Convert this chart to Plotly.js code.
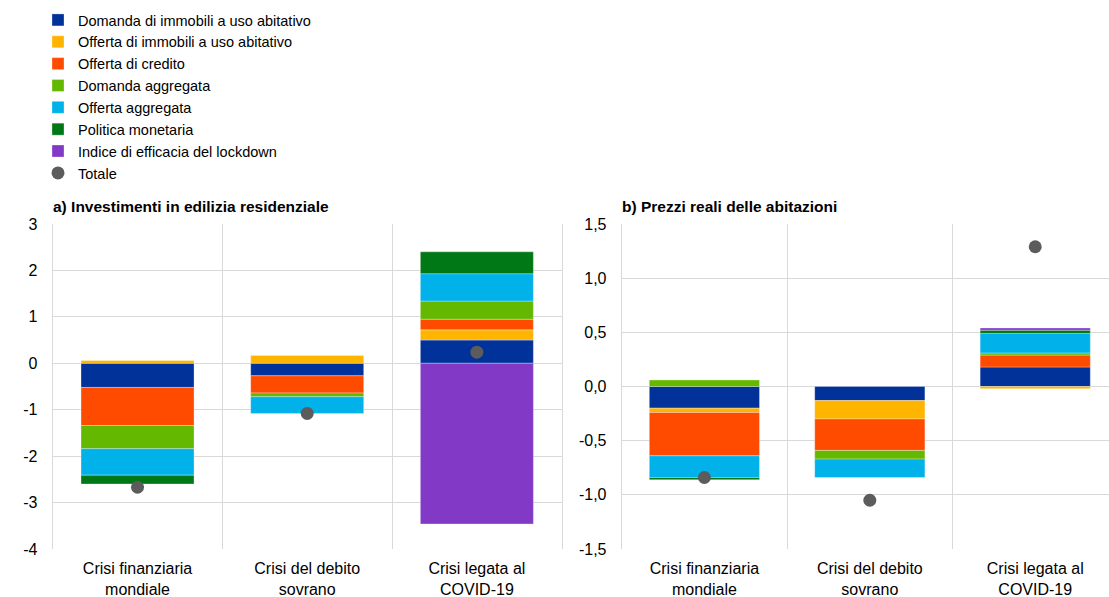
<!DOCTYPE html>
<html>
<head>
<meta charset="utf-8">
<script src="https://cdn.plot.ly/plotly-3.0.1.min.js"></script>
<style>html,body{margin:0;padding:0;background:#fff;}#chart{width:1109px;height:597px;}</style>
</head>
<body>
<div id="chart"></div>
<script>
// ---- Data ----
const categories = ["Crisi finanziaria<br>mondiale", "Crisi del debito<br>sovrano", "Crisi legata al<br>COVID-19"];
const seriesNames = [
  "Domanda di immobili a uso abitativo",
  "Offerta di immobili a uso abitativo",
  "Offerta di credito",
  "Domanda aggregata",
  "Offerta aggregata",
  "Politica monetaria",
  "Indice di efficacia del lockdown"
];
const totaleName = "Totale";

// Panel a) Investimenti in edilizia residenziale
const domImm_a   = [-0.52, -0.27, 0.50];
const offImm_a   = [0.06, 0.17, 0.22];
const offCred_a  = [-0.82, -0.37, 0.23];
const domAgg_a   = [-0.50, -0.08, 0.39];
const offAgg_a   = [-0.57, -0.36, 0.59];
const polMon_a   = [-0.19, null, 0.47];
const lockdown_a = [null, null, -3.46];
const totale_a   = [-2.67, -1.08, 0.24];

// Panel b) Prezzi reali delle abitazioni
const domImm_b   = [-0.20, -0.13, 0.18];
const offImm_b   = [-0.04, -0.17, -0.02];
const offCred_b  = [-0.40, -0.29, 0.11];
const domAgg_b   = [0.06, -0.08, 0.02];
const offAgg_b   = [-0.20, -0.17, 0.18];
const polMon_b   = [-0.02, null, 0.03];
const lockdown_b = [null, null, 0.02];
const totale_b   = [-0.84, -1.05, 1.29];

// Tick labels
const yTickVals_a = [3, 2, 1, 0, -1, -2, -3, -4];
const yTickText_a = ["3", "2", "1", "0", "-1", "-2", "-3", "-4"];
const yTickVals_b = [1.5, 1.0, 0.5, 0.0, -0.5, -1.0, -1.5];
const yTickText_b = ["1,5", "1,0", "0,5", "0,0", "-0,5", "-1,0", "-1,5"];

const titleA = "a) Investimenti in edilizia residenziale";
const titleB = "b) Prezzi reali delle abitazioni";

// ---- Styles ----
const colors = ["#003299", "#FFB400", "#FF4B00", "#65B800", "#00B1EA", "#007816", "#8139C6"];
const dotColor = "#5C5C5C";

const seriesA = [domImm_a, offImm_a, offCred_a, domAgg_a, offAgg_a, polMon_a, lockdown_a];
const seriesB = [domImm_b, offImm_b, offCred_b, domAgg_b, offAgg_b, polMon_b, lockdown_b];

const traces = [];
seriesA.forEach((vals, i) => {
  traces.push({
    type: "bar", x: categories, y: vals, name: seriesNames[i],
    marker: {color: colors[i], line: {color: "rgba(255,255,255,0.5)", width: 0.6}},
    xaxis: "x", yaxis: "y", showlegend: true
  });
});
traces.push({
  type: "scatter", mode: "markers", x: categories, y: totale_a, name: totaleName,
  marker: {color: dotColor, size: 13}, xaxis: "x", yaxis: "y", showlegend: true
});
seriesB.forEach((vals, i) => {
  traces.push({
    type: "bar", x: categories, y: vals, name: seriesNames[i],
    marker: {color: colors[i], line: {color: "rgba(255,255,255,0.5)", width: 0.6}},
    xaxis: "x2", yaxis: "y2", showlegend: false
  });
});
traces.push({
  type: "scatter", mode: "markers", x: categories, y: totale_b, name: totaleName,
  marker: {color: dotColor, size: 13}, xaxis: "x2", yaxis: "y2", showlegend: false
});

const W = 1109, H = 597;
const gridColor = "#d9d9d9";
const FAMILY = "Liberation Sans, Arial, sans-serif";
const tickFont = {family: FAMILY, size: 16, color: "#000"};
const yDomain = [48 / H, 373 / H];

const layout = {
  width: W, height: H,
  margin: {l: 0, r: 0, t: 0, b: 0},
  paper_bgcolor: "#fff", plot_bgcolor: "#fff",
  barmode: "relative", bargap: 0.334,
  separators: ",.",
  font: {family: FAMILY, size: 16, color: "#000"},
  showlegend: true,
  legend: {
    x: 38 / W, y: 1 - 4 / H, xanchor: "left", yanchor: "top",
    font: {family: FAMILY, size: 14.5, color: "#000"}, traceorder: "normal",
    bgcolor: "rgba(0,0,0,0)"
  },
  xaxis: {
    domain: [52.7 / W, 561.7 / W], type: "category", range: [-0.5, 2.5],
    tickson: "boundaries", showgrid: true, gridcolor: gridColor, gridwidth: 1,
    ticks: "", tickfont: tickFont, ticklabelstandoff: 8, zeroline: false,
    showline: false, fixedrange: true
  },
  yaxis: {
    domain: yDomain, range: [-4, 3], tickvals: yTickVals_a, ticktext: yTickText_a,
    showgrid: true, gridcolor: gridColor, gridwidth: 1, zeroline: true, zerolinecolor: gridColor, zerolinewidth: 1,
    showline: true, linecolor: gridColor, linewidth: 1, mirror: true,
    ticks: "", tickfont: tickFont, ticklabelstandoff: 11, fixedrange: true
  },
  xaxis2: {
    domain: [621.7 / W, 1], type: "category", range: [-0.5, 2.446],
    tickson: "boundaries", showgrid: true, gridcolor: gridColor, gridwidth: 1,
    ticks: "", tickfont: tickFont, ticklabelstandoff: 8, zeroline: false,
    showline: false, fixedrange: true, anchor: "y2"
  },
  yaxis2: {
    domain: yDomain, range: [-1.5, 1.5], tickvals: yTickVals_b, ticktext: yTickText_b,
    showgrid: true, gridcolor: gridColor, gridwidth: 1, zeroline: true, zerolinecolor: gridColor, zerolinewidth: 1,
    showline: true, linecolor: gridColor, linewidth: 1,
    ticks: "", tickfont: tickFont, ticklabelstandoff: 11, fixedrange: true, anchor: "x2"
  },
  annotations: [
    {text: "<b>" + titleA + "</b>", xref: "paper", yref: "paper", x: 51 / W, y: (H - 206) / H,
     xanchor: "left", yanchor: "middle", showarrow: false, font: {family: FAMILY, size: 15.5, color: "#000"}},
    {text: "<b>" + titleB + "</b>", xref: "paper", yref: "paper", x: 620 / W, y: (H - 206) / H,
     xanchor: "left", yanchor: "middle", showarrow: false, font: {family: FAMILY, size: 15.5, color: "#000"}}
  ]
};

Plotly.newPlot("chart", traces, layout, {displayModeBar: false, staticPlot: true});
</script>
</body>
</html>
